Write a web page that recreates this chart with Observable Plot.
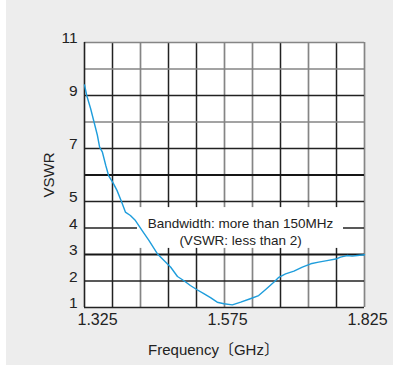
<!DOCTYPE html>
<html>
<head>
<meta charset="utf-8">
<script src="https://cdn.jsdelivr.net/npm/d3@7"></script>
<script src="https://cdn.jsdelivr.net/npm/@observablehq/plot@0.6"></script>
<style>
  html, body { margin: 0; padding: 0; background: #ffffff; }
  #chart { margin-left: 6px; width: 387px; height: 365px; background: #ededed; }
</style>
</head>
<body>
<div id="chart"></div>
<script>
// Measured VSWR of the antenna across the sweep
const freqGHz = [
  1.325, 1.329, 1.336, 1.342, 1.348, 1.352, 1.357, 1.363, 1.368, 1.376,
  1.383, 1.391, 1.398, 1.407, 1.416, 1.428, 1.440, 1.455, 1.467, 1.479,
  1.491, 1.502, 1.514, 1.526, 1.538, 1.550, 1.562, 1.574, 1.589, 1.604,
  1.621, 1.636, 1.648, 1.663, 1.672, 1.684, 1.699, 1.714, 1.729, 1.743,
  1.758, 1.776, 1.782, 1.794, 1.803, 1.812, 1.825
];
const vswr = [
  9.40, 9.00, 8.50, 8.00, 7.50, 7.05, 6.86, 6.36, 5.98, 5.70,
  5.42, 5.00, 4.60, 4.47, 4.28, 3.90, 3.53, 3.03, 2.77, 2.52,
  2.17, 2.02, 1.83, 1.67, 1.52, 1.37, 1.20, 1.14, 1.10, 1.20,
  1.33, 1.45, 1.67, 1.95, 2.14, 2.27, 2.37, 2.52, 2.65, 2.71,
  2.77, 2.84, 2.90, 2.96, 2.94, 2.96, 2.99
];

// Axis ticks
const xTicks = [1.325, 1.575, 1.825];
const yTicks = [1, 2, 3, 4, 5, 7, 9, 11];

// Grid lines: dark, heavy and light rulings
const gridXDark = [1.375, 1.475, 1.525, 1.675, 1.775];
const gridXLight = [1.425, 1.575, 1.625, 1.725, 1.825];
const gridYDark = [2, 4, 5, 7, 9];
const gridYHeavy = [3, 6];
const gridYLight = [8, 10, 11];

// Annotation text and its white panel (in data units)
const noteLines = ["Bandwidth: more than 150MHz", "(VSWR: less than 2)"];
const noteAt = [1.6036, 3.87];
const notePanelFreq = [1.4196, 1.7875];
const notePanelVswr = [3.23, 4.77];

const xTitle = "Frequency〔GHz〕";
const yTitle = "VSWR";

const points = freqGHz.map((f, i) => ({f, v: vswr[i]}));
const panel = [{f1: notePanelFreq[0], f2: notePanelFreq[1], v1: notePanelVswr[0], v2: notePanelVswr[1]}];
const note = [{f: noteAt[0], v: noteAt[1], t: noteLines.join("\n")}];

const dark = "#222222";
const light = "#858585";
const fmt = d3.format(".3f");

const chart = Plot.plot({
  width: 387,
  height: 365,
  marginLeft: 78,
  marginRight: 29,
  marginTop: 42,
  marginBottom: 58,
  style: {
    background: "#ededed",
    fontFamily: "'Liberation Sans', Arial, 'Noto Sans CJK JP', sans-serif",
    color: "#222"
  },
  x: {domain: [1.325, 1.825]},
  y: {domain: [1, 11]},
  marks: [
    Plot.frame({fill: "white", stroke: "none"}),
    Plot.ruleX(gridXLight, {stroke: light, strokeWidth: 1.7}),
    Plot.ruleX(gridXDark, {stroke: dark, strokeWidth: 1.5}),
    Plot.ruleY(gridYLight, {stroke: light, strokeWidth: 1.7}),
    Plot.ruleY(gridYDark, {stroke: dark, strokeWidth: 1.5}),
    Plot.ruleY(gridYHeavy, {stroke: "#161616", strokeWidth: 2.2}),
    Plot.ruleX([xTicks[0]], {stroke: dark, strokeWidth: 1.6}),
    Plot.ruleY([yTicks[0]], {stroke: dark, strokeWidth: 1.6}),
    Plot.rect(panel, {x1: "f1", x2: "f2", y1: "v1", y2: "v2", fill: "white"}),
    Plot.text(note, {x: "f", y: "v", text: "t", fontSize: 13.5, lineHeight: 1.22, fill: "#222"}),
    Plot.line(points, {x: "f", y: "v", stroke: "#1e9ddc", strokeWidth: 1.4}),
    Plot.axisY(yTicks, {tickSize: 0, tickPadding: 7, dy: -4, fontSize: 15.5, label: null}),
    Plot.axisX([xTicks[0]], {tickSize: 0, tickPadding: 6, dx: 13, fontSize: 16, label: null, tickFormat: fmt}),
    Plot.axisX(xTicks.slice(1), {tickSize: 0, tickPadding: 6, dx: 3, fontSize: 16, label: null, tickFormat: fmt}),
    Plot.text([yTitle], {text: d => d, frameAnchor: "left", rotate: -90, dx: -35, fontSize: 15, textAnchor: "middle", lineAnchor: "middle"}),
    Plot.text([xTitle], {text: d => d, frameAnchor: "bottom", dx: -11, dy: 43, fontSize: 15, lineAnchor: "middle"})
  ]
});

document.getElementById("chart").append(chart);
</script>
</body>
</html>
